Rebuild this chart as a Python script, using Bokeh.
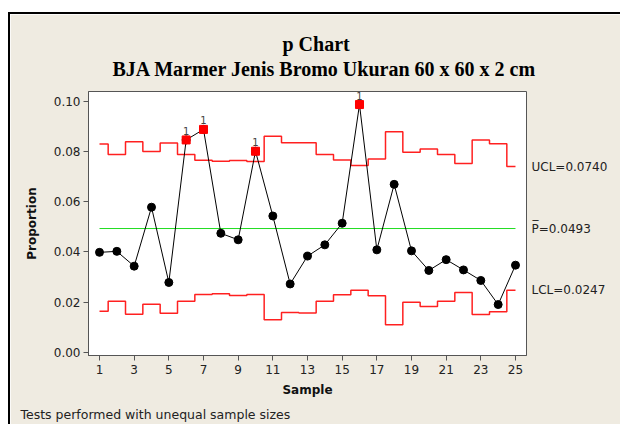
from bokeh.plotting import figure
from bokeh.models import Range1d, FixedTicker, LinearAxis, Title, ColumnDataSource, NumeralTickFormatter
from bokeh.embed import file_html
from bokeh.resources import INLINE
from bokeh.core.properties import value

# ---- data ----
samples = list(range(1, 26))
proportion = [0.0398, 0.0402, 0.0343, 0.0578, 0.0278, 0.0846, 0.0888, 0.0474, 0.0448, 0.0801,
              0.0543, 0.0272, 0.0383, 0.0428, 0.0514, 0.0987, 0.0408, 0.0669, 0.0404, 0.0326,
              0.0369, 0.0328, 0.0286, 0.0190, 0.0347]
ucl = [0.0830, 0.0788, 0.0839, 0.0800, 0.0834, 0.0788, 0.0765, 0.0761, 0.0764, 0.0760,
       0.0861, 0.0835, 0.0835, 0.0788, 0.0766, 0.0744, 0.0770, 0.0879, 0.0797, 0.0810,
       0.0788, 0.0752, 0.0846, 0.0831, 0.0740]
lcl = [0.0163, 0.0203, 0.0151, 0.0191, 0.0155, 0.0203, 0.0230, 0.0233, 0.0226, 0.0230,
       0.0129, 0.0158, 0.0156, 0.0203, 0.0229, 0.0247, 0.0225, 0.0110, 0.0199, 0.0182,
       0.0203, 0.0238, 0.0150, 0.0161, 0.0247]
p_bar = 0.0493
limit_labels = {0.0740: "UCL=0.0740", 0.0493: "P\u0305=0.0493", 0.0247: "LCL=0.0247"}
x_ticks = [1, 3, 5, 7, 9, 11, 13, 15, 17, 19, 21, 23, 25]
y_ticks = [0.0, 0.02, 0.04, 0.06, 0.08, 0.10]
title_1 = "p Chart"
title_2 = "BJA Marmer Jenis Bromo Ukuran 60 x 60 x 2 cm"
footnote = "Tests performed with unequal sample sizes"

BEIGE = "#EFEBE1"
FONT = "DejaVu Sans"

p = figure(width=612, height=412, output_backend="svg", toolbar_location=None,
           x_range=Range1d(0.365, 25.635), y_range=Range1d(-0.0013, 0.1039),
           title=None, min_border_left=78, min_border_right=96,
           min_border_top=77, min_border_bottom=71)
p.margin = (12, 0, 0, 8)
p.styles = {"border-left": "2px solid black", "border-top": "2px solid black"}
p.border_fill_color = BEIGE
p.background_fill_color = "white"
p.outline_line_color = "#555555"
p.grid.visible = False

# axes
p.xaxis.ticker = FixedTicker(ticks=x_ticks)
p.yaxis.ticker = FixedTicker(ticks=y_ticks)
p.yaxis.formatter = NumeralTickFormatter(format="0.00")
for ax in (p.xaxis[0], p.yaxis[0]):
    ax.axis_line_color = "#555555"
    ax.major_tick_line_color = "#555555"
    ax.major_tick_in = 0
    ax.major_tick_out = 5
    ax.minor_tick_line_color = None
    ax.major_label_text_font = FONT
    ax.major_label_text_font_size = "12px"
    ax.major_label_text_color = "#222222"
    ax.axis_label_text_font = FONT
    ax.axis_label_text_font_size = "12px"
    ax.axis_label_text_font_style = "bold"
    ax.axis_label_text_color = "#111111"
p.xaxis.axis_label = "Sample"
p.yaxis.axis_label = "Proportion"
p.xaxis.major_label_standoff = 4
p.xaxis.axis_label_standoff = 6
p.yaxis.major_label_standoff = 3
p.yaxis.axis_label_standoff = 12

right = LinearAxis(ticker=FixedTicker(ticks=list(limit_labels.keys())),
                   major_label_overrides=limit_labels)
right.axis_line_color = None
right.major_tick_line_color = None
right.minor_tick_line_color = None
right.major_tick_out = 0
right.major_tick_in = 0
right.major_label_standoff = 5
right.major_label_text_font = FONT
right.major_label_text_font_size = "12px"
right.major_label_text_color = "#222222"
p.add_layout(right, "right")

# titles (first added sits closest to the plot)
p.add_layout(Title(text=title_2, align="left", offset=24, standoff=24, text_font="Liberation Serif",
                   text_font_size="20px", text_font_style="bold", text_color="black"), "above")
p.add_layout(Title(text=title_1, align="left", offset=194, standoff=-22, text_font="Liberation Serif",
                   text_font_size="20px", text_font_style="bold", text_color="black"), "above")
p.add_layout(Title(text=footnote, align="left", offset=-68, text_font=FONT,
                   text_font_size="12.5px", text_font_style="normal", text_color="#222222"), "below")

# limits
p.step(samples, ucl, mode="center", line_color="#FF2020", line_width=1.5)
p.step(samples, lcl, mode="center", line_color="#FF2020", line_width=1.5)
p.line([samples[0], samples[-1]], [p_bar, p_bar], line_color="#22DD22", line_width=1)

# data
src = ColumnDataSource(dict(x=samples, y=proportion))
p.line("x", "y", source=src, line_color="black", line_width=1)
p.scatter("x", "y", source=src, size=8, color="black")

out_x = [s for s, v, u in zip(samples, proportion, ucl) if v > u]
out_y = [v for v, u in zip(proportion, ucl) if v > u]
osrc = ColumnDataSource(dict(x=out_x, y=out_y, t=["1"] * len(out_x)))
p.scatter("x", "y", source=osrc, marker="square", size=8, color="#FF0000")
p.text("x", "y", text="t", source=osrc, text_align="center", text_baseline="bottom",
       y_offset=-5, text_font=value(FONT), text_font_size="10px", text_color="#444444")

open("out.html", "w").write(file_html(p, INLINE))
